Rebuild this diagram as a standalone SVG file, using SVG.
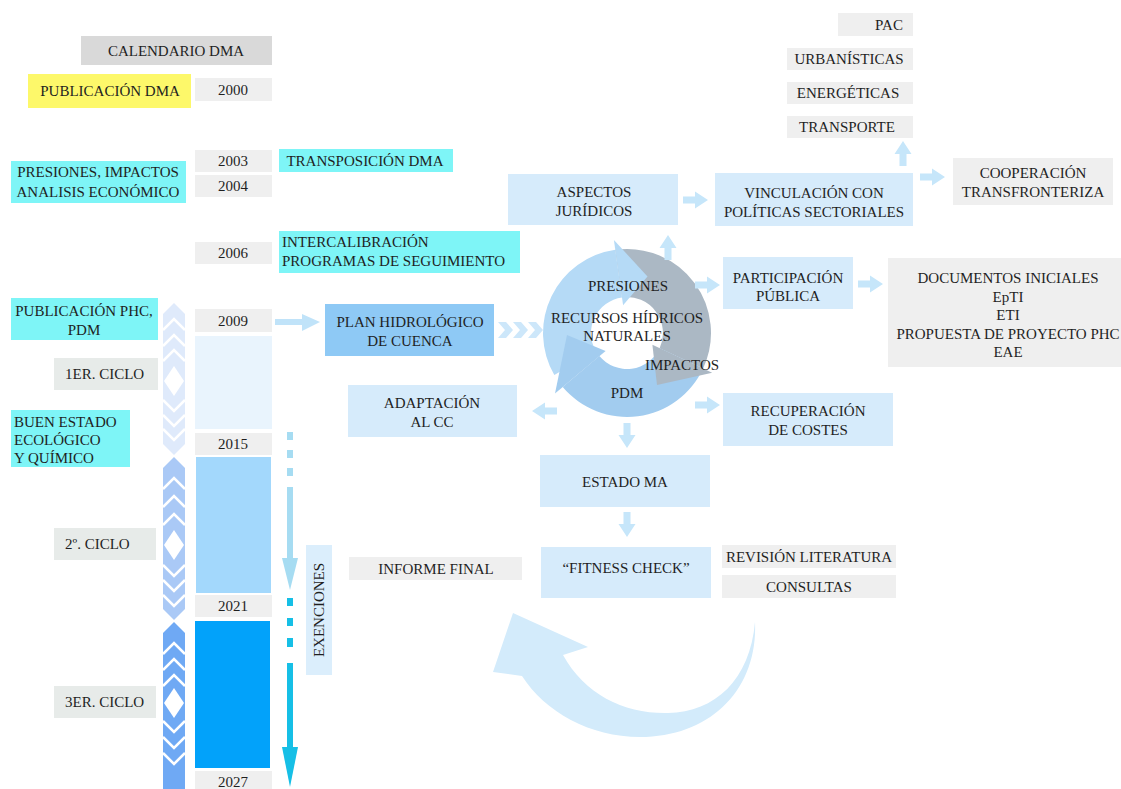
<svg xmlns="http://www.w3.org/2000/svg" width="1121" height="789" viewBox="0 0 1121 789">
  <defs>
    <style>
      .t { font-family: "Liberation Serif", "Times New Roman", "DejaVu Serif", serif; font-size: 15px; fill: #1f1f1f; }
      .c { text-anchor: middle; }
      .yr { fill: #efefef; }
      .gy { fill: #efefef; }
      .cy { fill: #7ef5f7; }
      .pb { fill: #d6ebfb; }
      .cl { fill: #e7ebe9; }
      .fa { fill: #c6e6fa; }
      .chev { fill: none; stroke: #ffffff; stroke-width: 2.5; }
    </style>
    <!-- thick block arrow pointing right, origin at tail centre -->
    <path id="fat" d="M0,-3.5 H12 V-8.5 L25,0 L12,8.5 V3.5 H0 Z"/>
  </defs>

  <rect width="1121" height="789" fill="#ffffff"/>

  <g font-family="Liberation Serif, Times New Roman, serif">
  <!-- timeline: years and cycle bars -->
  <g id="calendario">
    <rect x="81" y="36" width="191" height="29" fill="#d9d9d9"/>
    <text class="t c" x="176" y="56">CALENDARIO DMA</text>
  </g>
  <g id="publicacion-dma">
    <rect x="28" y="74" width="163" height="34" fill="#fdf86a"/>
    <text class="t c" x="110" y="96">PUBLICACIÓN DMA</text>
  </g>
  <g id="y2000">
    <rect class="yr" x="195" y="78" width="77" height="23"/>
    <text class="t c" x="233" y="95">2000</text>
  </g>
  <g id="y2003">
    <rect class="yr" x="195" y="150" width="77" height="22"/>
    <text class="t c" x="233" y="166">2003</text>
  </g>
  <g id="y2004">
    <rect class="yr" x="195" y="175" width="77" height="22"/>
    <text class="t c" x="233" y="191">2004</text>
  </g>
  <g id="presiones-impactos">
    <rect class="cy" x="11" y="161" width="175" height="42"/>
    <text class="t c" x="98" y="177">PRESIONES, IMPACTOS</text>
    <text class="t c" x="98" y="197">ANALISIS ECONÓMICO</text>
  </g>
  <g id="transposicion">
    <rect class="cy" x="279" y="149" width="174" height="23"/>
    <text class="t c" x="365" y="166">TRANSPOSICIÓN DMA</text>
  </g>
  <g id="y2006">
    <rect class="yr" x="195" y="242" width="77" height="22"/>
    <text class="t c" x="233" y="258">2006</text>
  </g>
  <g id="intercalibracion">
    <rect class="cy" x="279" y="231" width="241" height="42"/>
    <text class="t" x="282" y="247">INTERCALIBRACIÓN</text>
    <text class="t" x="282" y="266">PROGRAMAS DE SEGUIMIENTO</text>
  </g>
  <g id="publicacion-phc">
    <rect class="cy" x="11" y="298" width="147" height="42"/>
    <text class="t c" x="84" y="316">PUBLICACIÓN PHC,</text>
    <text class="t c" x="84" y="335">PDM</text>
  </g>
  <g id="y2009">
    <rect class="yr" x="195" y="309" width="77" height="23"/>
    <text class="t c" x="233" y="326">2009</text>
  </g>
  <g id="ciclo1-barra">
    <rect x="195" y="336" width="77" height="93" fill="#e9f4fd"/>
  </g>
  <g id="ciclo1">
    <rect class="cl" x="54" y="358" width="104" height="32"/>
    <text class="t" x="65" y="379">1ER. CICLO</text>
  </g>
  <g id="buen-estado">
    <rect class="cy" x="11" y="410" width="119" height="57"/>
    <text class="t" x="14" y="427">BUEN ESTADO</text>
    <text class="t" x="14" y="445">ECOLÓGICO</text>
    <text class="t" x="14" y="463">Y QUÍMICO</text>
  </g>
  <g id="y2015">
    <rect class="yr" x="195" y="433" width="77" height="22"/>
    <text class="t c" x="233" y="449">2015</text>
  </g>
  <g id="ciclo2-barra">
    <rect x="196" y="457" width="75" height="136" fill="#a3d8fc"/>
  </g>
  <g id="ciclo2">
    <rect class="cl" x="54" y="528" width="102" height="32"/>
    <text class="t" x="65" y="549">2º. CICLO</text>
  </g>
  <g id="y2021">
    <rect class="yr" x="195" y="595" width="77" height="22"/>
    <text class="t c" x="233" y="611">2021</text>
  </g>
  <g id="ciclo3-barra">
    <rect x="195" y="621" width="75" height="147" fill="#02a2fa"/>
  </g>
  <g id="ciclo3">
    <rect class="cl" x="54" y="686" width="102" height="32"/>
    <text class="t" x="65" y="707">3ER. CICLO</text>
  </g>
  <g id="y2027">
    <rect class="yr" x="195" y="771" width="77" height="22"/>
    <text class="t c" x="233" y="787">2027</text>
  </g>

  <!-- chevron bands beside each cycle -->
  <g id="chevrones">
    <polygon points="163,314 174,303 185,314 185,444 174,455 163,444" fill="#dfeafb"/>
    <polyline class="chev" points="163,330 174,319 185,330"/>
    <polyline class="chev" points="163,346 174,335 185,346"/>
    <polyline class="chev" points="163,361 174,350 185,361"/>
    <polygon points="174,366 184,381 174,396 164,381" fill="#ffffff"/>
    <polyline class="chev" points="163,400 174,411 185,400"/>
    <polyline class="chev" points="163,415 174,426 185,415"/>
    <polyline class="chev" points="163,429 174,440 185,429"/>

    <polygon points="163,468 174,457 185,468 185,609 174,620 163,609" fill="#aac9f6"/>
    <polyline class="chev" points="163,489 174,478 185,489"/>
    <polyline class="chev" points="163,507 174,496 185,507"/>
    <polyline class="chev" points="163,525 174,514 185,525"/>
    <polygon points="174,530 184,545 174,560 164,545" fill="#ffffff"/>
    <polyline class="chev" points="163,565 174,576 185,565"/>
    <polyline class="chev" points="163,580 174,591 185,580"/>
    <polyline class="chev" points="163,595 174,606 185,595"/>

    <polygon points="163,633 174,622 185,633 185,800 174,811 163,800" fill="#6fa9f4"/>
    <polyline class="chev" points="163,654 174,643 185,654"/>
    <polyline class="chev" points="163,670 174,659 185,670"/>
    <polyline class="chev" points="163,686 174,675 185,686"/>
    <polygon points="174,688 184,703 174,718 164,703" fill="#ffffff"/>
    <polyline class="chev" points="163,721 174,732 185,721"/>
    <polyline class="chev" points="163,737 174,748 185,737"/>
    <polyline class="chev" points="163,753 174,764 185,753"/>
  </g>

  <g id="exenciones">
    <rect x="306" y="545" width="26" height="130" fill="#dbeefc"/>
    <text class="t c" transform="translate(324,610) rotate(-90)">EXENCIONES</text>
  </g>

  <!-- planning cycle -->
  <g id="plan-hidrologico">
    <rect x="325" y="304" width="169" height="52" fill="#8ec9f5"/>
    <text class="t c" x="410" y="327">PLAN HIDROLÓGICO</text>
    <text class="t c" x="410" y="346">DE CUENCA</text>
  </g>
  <g id="ciclo">
    <!-- three circular arrows: bodies first, heads on top -->
    <path d="M615.3,249.8 A84,84 0 0 1 703.1,368.5 L659.6,348.2 A36,36 0 0 0 622,297.4 Z" fill="#abb8c4"/>
    <path d="M703.1,368.5 A84,84 0 0 1 562.7,387 L599.4,356.1 A36,36 0 0 0 659.6,348.2 Z" fill="#a2ccef"/>
    <path d="M554.3,375 A84,84 0 0 1 615.3,249.8 L622,297.4 A36,36 0 0 0 595.8,351 Z" fill="#b5daf6"/>
    <polygon points="712.2,372.7 652.4,344.8 657,385" fill="#abb8c4"/>
    <polygon points="555,393.4 605.6,351 567,335.1" fill="#a2ccef"/>
    <polygon points="613.9,239.9 623.1,305.3 647.5,276.6" fill="#b5daf6"/>
    <text class="t c" x="628" y="291">PRESIONES</text>
    <text class="t c" x="627" y="323">RECURSOS HÍDRICOS</text>
    <text class="t c" x="627" y="341">NATURALES</text>
    <text class="t c" x="682" y="370">IMPACTOS</text>
    <text class="t c" x="627" y="398">PDM</text>
  </g>
  <g id="aspectos-juridicos">
    <rect class="pb" x="508" y="174" width="170" height="51"/>
    <text class="t c" x="594" y="197">ASPECTOS</text>
    <text class="t c" x="594" y="216">JURÍDICOS</text>
  </g>
  <g id="vinculacion">
    <rect class="pb" x="715" y="173" width="198" height="53"/>
    <text class="t c" x="814" y="198">VINCULACIÓN CON</text>
    <text class="t c" x="814" y="217">POLÍTICAS SECTORIALES</text>
  </g>
  <g id="pac">
    <rect class="gy" x="838" y="13" width="75" height="23"/>
    <text class="t c" x="889" y="30">PAC</text>
  </g>
  <g id="urbanisticas">
    <rect class="gy" x="787" y="48" width="126" height="22"/>
    <text class="t c" x="849" y="64">URBANÍSTICAS</text>
  </g>
  <g id="energeticas">
    <rect class="gy" x="787" y="82" width="126" height="22"/>
    <text class="t c" x="848" y="98">ENERGÉTICAS</text>
  </g>
  <g id="transporte">
    <rect class="gy" x="787" y="116" width="126" height="22"/>
    <text class="t c" x="847" y="132">TRANSPORTE</text>
  </g>
  <g id="cooperacion">
    <rect class="gy" x="953" y="158" width="160" height="47"/>
    <text class="t c" x="1033" y="178">COOPERACIÓN</text>
    <text class="t c" x="1033" y="197">TRANSFRONTERIZA</text>
  </g>
  <g id="participacion">
    <rect class="pb" x="723" y="257" width="130" height="52"/>
    <text class="t c" x="788" y="283">PARTICIPACIÓN</text>
    <text class="t c" x="788" y="301">PÚBLICA</text>
  </g>
  <g id="documentos">
    <rect class="gy" x="888" y="258" width="240" height="109"/>
    <text class="t c" x="1008" y="283">DOCUMENTOS INICIALES</text>
    <text class="t c" x="1008" y="302">EpTI</text>
    <text class="t c" x="1008" y="320">ETI</text>
    <text class="t c" x="1008" y="339">PROPUESTA DE PROYECTO PHC</text>
    <text class="t c" x="1008" y="357">EAE</text>
  </g>
  <g id="recuperacion">
    <rect class="pb" x="723" y="393" width="170" height="53"/>
    <text class="t c" x="808" y="416">RECUPERACIÓN</text>
    <text class="t c" x="808" y="435">DE COSTES</text>
  </g>
  <g id="adaptacion">
    <rect class="pb" x="348" y="385" width="169" height="52"/>
    <text class="t c" x="432" y="408">ADAPTACIÓN</text>
    <text class="t c" x="432" y="427">AL CC</text>
  </g>
  <g id="estado-ma">
    <rect class="pb" x="540" y="455" width="170" height="52"/>
    <text class="t c" x="625" y="487">ESTADO MA</text>
  </g>
  <g id="fitness-check">
    <rect class="pb" x="541" y="547" width="170" height="51"/>
    <text class="t c" x="626" y="573">“FITNESS CHECK”</text>
  </g>
  <g id="informe-final">
    <rect class="gy" x="349" y="557" width="173" height="23"/>
    <text class="t c" x="436" y="574">INFORME FINAL</text>
  </g>
  <g id="revision-literatura">
    <rect class="gy" x="722" y="545" width="174" height="23"/>
    <text class="t c" x="809" y="562">REVISIÓN LITERATURA</text>
  </g>
  <g id="consultas">
    <rect class="gy" x="722" y="575" width="174" height="23"/>
    <text class="t c" x="809" y="592">CONSULTAS</text>
  </g>
  </g>

  <!-- connectors -->
  <g id="conectores">
    <!-- exemptions: dashed downward arrows -->
    <g fill="#a6dcf2">
      <rect x="287" y="432" width="6" height="8"/>
      <rect x="287" y="450" width="6" height="8"/>
      <rect x="287" y="468" width="6" height="8"/>
      <rect x="287" y="487" width="6" height="74"/>
      <polygon points="282,558 298,558 290,590"/>
    </g>
    <g fill="#16bfe6">
      <rect x="287" y="598" width="6" height="8"/>
      <rect x="287" y="618" width="6" height="8"/>
      <rect x="287" y="638" width="6" height="9"/>
      <rect x="287" y="663" width="6" height="86"/>
      <polygon points="282,747 298,747 290,787"/>
    </g>
    <!-- 2009 to plan -->
    <rect x="275" y="319" width="30" height="6" fill="#c0e3f9"/>
    <polygon points="302,314 320,322 302,331" fill="#c0e3f9"/>
    <!-- plan into cycle -->
    <g fill="#cde7fa">
      <polygon points="498,322 506,322 513,330 506,338 498,338 505,330"/>
      <polygon points="513,322 521,322 528,330 521,338 513,338 520,330"/>
      <polygon points="528,322 536,322 543,330 536,338 528,338 535,330"/>
    </g>
    <!-- block arrows around the cycle -->
    <use href="#fat" class="fa" transform="translate(668,260) rotate(-90)"/>
    <use href="#fat" class="fa" transform="translate(683,200)"/>
    <use href="#fat" class="fa" transform="translate(695,285)"/>
    <use href="#fat" class="fa" transform="translate(695,405)"/>
    <use href="#fat" class="fa" transform="translate(557,411) rotate(180)"/>
    <use href="#fat" class="fa" transform="translate(627,423) rotate(90)"/>
    <use href="#fat" class="fa" transform="translate(627,512) rotate(90)"/>
    <use href="#fat" class="fa" transform="translate(858,284)"/>
    <use href="#fat" class="fa" transform="translate(920,177)"/>
    <use href="#fat" class="fa" transform="translate(903,166) rotate(-90)"/>
    <!-- feedback arrow below the fitness check -->
    <path d="M755,622 C758,690 710,737 640,737 C590,737 545,712 522,676 L493,672 L513,613 L588,647 L563,655 C585,695 625,714 668,713 C715,712 750,680 755,622 Z" fill="#d3ebfb"/>
  </g>
</svg>
